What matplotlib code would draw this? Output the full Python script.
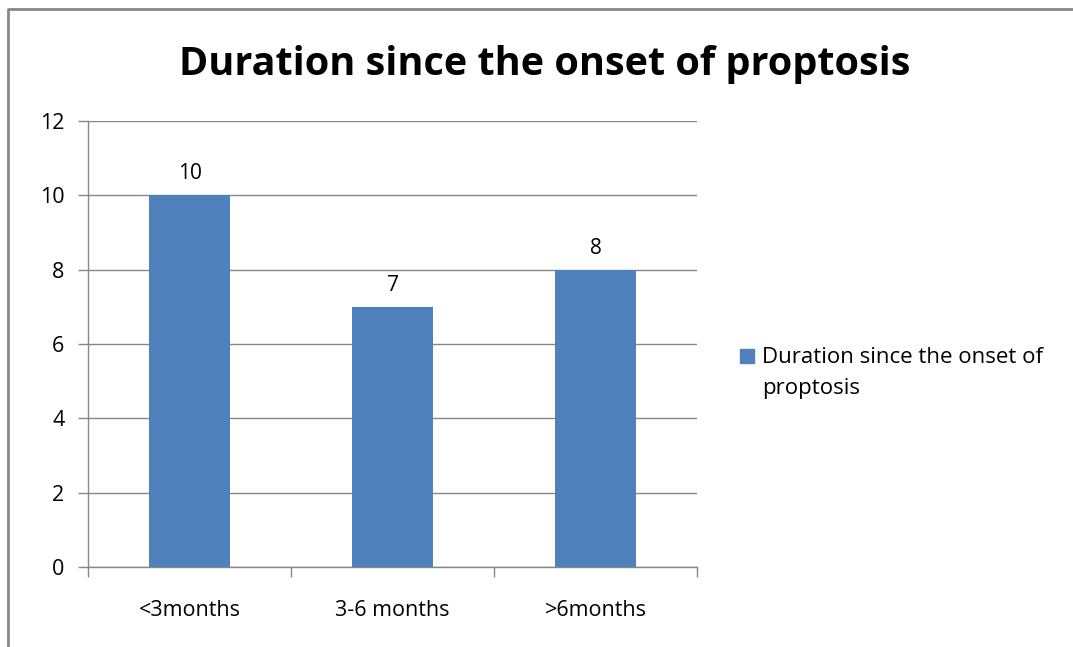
import matplotlib
matplotlib.use("Agg")
import matplotlib.pyplot as plt
from matplotlib.patches import Rectangle

categories = ["<3months", "3-6 months", ">6months"]
values = [10, 7, 8]
series_name = "Duration since the onset of\nproptosis"
title = "Duration since the onset of proptosis"

plt.rcParams['font.family'] = ['Open Sans', 'DejaVu Sans']

fig = plt.figure(figsize=(10.73, 6.47), dpi=100)
ax = fig.add_axes([88/1073, 1-567/647, (697-88)/1073, (567-121)/647])

grey = "#878787"
x = range(len(categories))
ax.bar(x, values, width=0.4, color="#4F81BD", zorder=3)
for i, v in zip(x, values):
    ax.annotate(str(v), (i, v), xytext=(0, 8), textcoords="offset points",
                ha="center", va="bottom", fontsize=15)

ax.set_xlim(-0.5, len(categories) - 0.5)
ax.set_ylim(0, 12)
ax.set_yticks(range(0, 13, 2))
ax.yaxis.grid(True, color=grey, linewidth=1, zorder=0)
ax.set_xticks([i for i in x])
ax.set_xticklabels(categories, fontsize=15.5)
ax.tick_params(axis="x", length=0, pad=24)
ax.set_xticks([i - 0.5 for i in range(len(categories) + 1)], minor=True)
ax.tick_params(axis="x", which="minor", length=7, color=grey, width=1, direction="out")
ax.tick_params(axis="y", length=7, color=grey, width=1, labelsize=15.5, pad=10)
for s in ["top", "right"]:
    ax.spines[s].set_visible(False)
for s in ["left", "bottom"]:
    ax.spines[s].set_color(grey)
    ax.spines[s].set_linewidth(1)

fig.text(545/1073, 1-64/647, title, ha="center", va="center",
         fontsize=28.5, fontweight="bold")

# legend
fig.patches.append(Rectangle((740/1073, 1-363/647), 14/1073, 14/647,
                             transform=fig.transFigure, color="#4F81BD"))
fig.text(762/1073, 1-347/647, series_name, ha="left", va="top",
         fontsize=16, linespacing=1.6)

# chart border
fig.add_artist(plt.Line2D([8/1073, 8/1073, 1.0], [0.0, 1-9/647, 1-9/647],
                          transform=fig.transFigure, color=grey, linewidth=2))

fig.savefig("out.png", dpi=100, facecolor="white")
